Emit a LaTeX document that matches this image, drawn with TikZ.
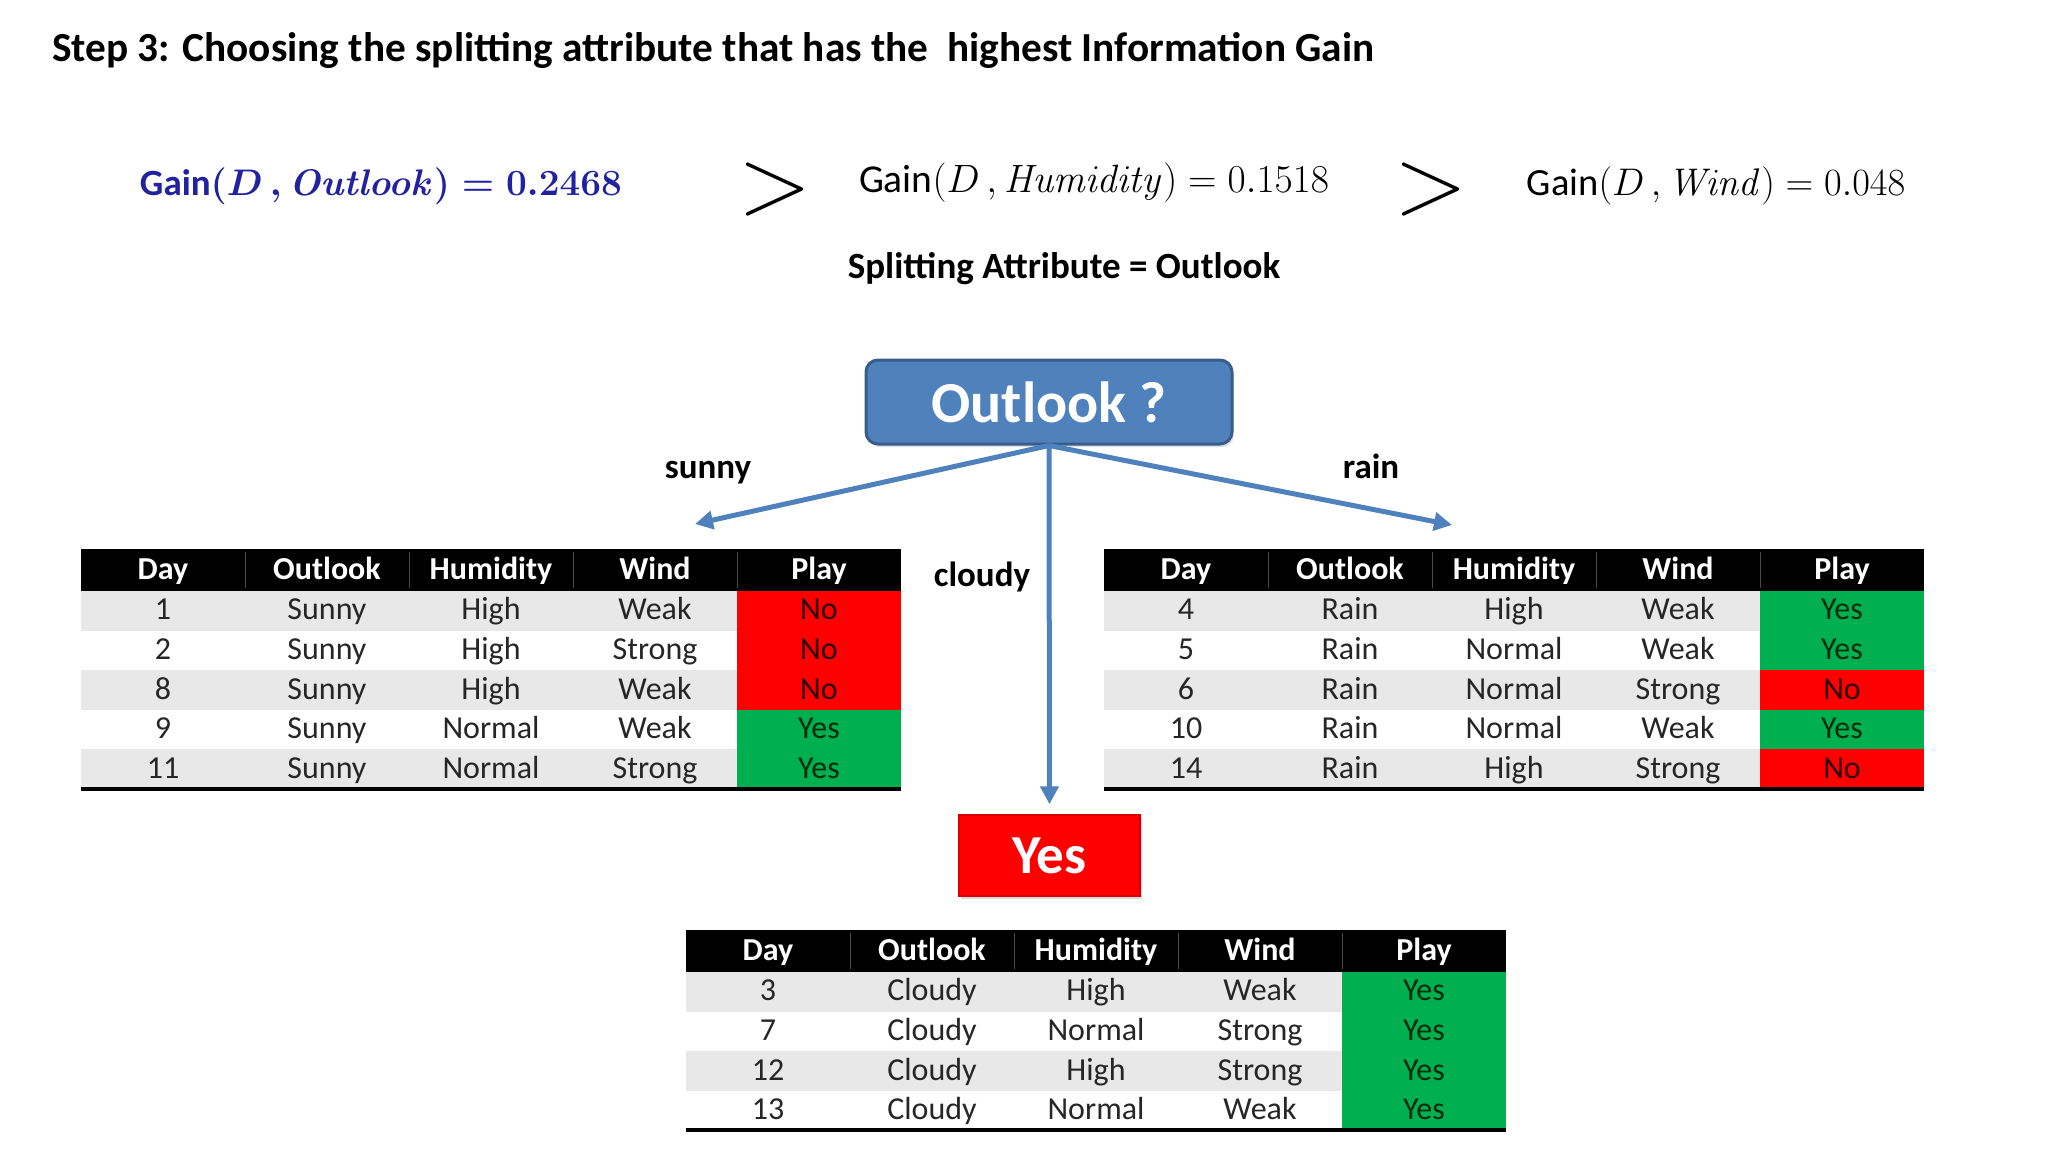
\RequirePackage{fix-cm}
\documentclass[tikz,border=0pt]{standalone}
\usepackage{amsmath}
\usepackage[no-math]{fontspec}
\setmainfont{Carlito}
\usepackage{tikz}
\usetikzlibrary{arrows.meta,shadows}
\definecolor{outlookblue}{HTML}{4F81BD}
\definecolor{outlookedge}{HTML}{385D8A}
\definecolor{gainblue}{HTML}{2222A0}
\definecolor{playNo}{HTML}{FF0000}
\definecolor{playYes}{HTML}{00B050}
\definecolor{inkNo}{HTML}{2A0000}
\definecolor{inkYes}{HTML}{052A0C}
\newcommand{\fsz}[1]{\fontsize{#1}{#1}\selectfont}
\tikzset{
	hdr/.style={text=white,font=\fsz{32}\bfseries,text height=22pt,text depth=4pt,inner sep=0pt},
	cell/.style={text=black!85,font=\fsz{32},text height=22pt,text depth=4pt,inner sep=0pt},
	playcell/.style={cell,minimum width=164pt,minimum height=39.6pt},
	hdrrule/.style={black!70,line width=1pt},
	branch/.style={outlookblue,line width=5pt,-{Triangle[length=18pt,width=18pt]}},
	branchlabel/.style={font=\fsz{35}\bfseries,anchor=base,inner sep=0pt},
	gain/.style={anchor=base,font=\fsz{38.5},inner sep=0pt},
	outlookbox/.style={fill=outlookblue,draw=outlookedge,line width=3pt,rounded corners=12pt,
		minimum width=366pt,minimum height=84pt,text=white,font=\fsz{58}\bfseries,
		drop shadow={shadow xshift=2pt,shadow yshift=-3pt,opacity=0.25}},
	yesbox/.style={fill=playNo,draw=red!85!black,line width=1.5pt,minimum width=181pt,
		minimum height=81pt,text=white,font=\fsz{55}\bfseries,
		drop shadow={shadow xshift=2pt,shadow yshift=-3pt,opacity=0.3}},
}
% #1 name, (#2,#3) top left corner, #4 number of rows, #5 rows
\newcommand{\playtable}[5]{
	\fill[black] (#2,#3) rectangle ++(820,42);
	\foreach \c in {1,...,4}
		\draw[hdrrule] (#2+164*\c,#3+3) -- ++(0,36);
	\foreach \t [count=\c] in {Day,Outlook,Humidity,Wind,Play}
		\node[hdr] (#1-0-\c) at (#2+164*\c-82,#3+21) {\t};
	\foreach \da/\ou/\hu/\wi/\pl [count=\r] in {#5}{
		\pgfmathsetmacro\ytop{#3+42+39.6*(\r-1)}
		\pgfmathtruncatemacro\tint{mod(\r,2)*9}
		\fill[black!\tint] (#2,\ytop) rectangle ++(656,39.6);
		\foreach \v [count=\c] in {\da,\ou,\hu,\wi}
			\node[cell] (#1-\r-\c) at (#2+164*\c-82,\ytop+19.8) {\v};
		\node[playcell,fill=play\pl] (#1-\r-5) at (#2+738,\ytop+19.8) {\textcolor{ink\pl}{\pl}};
	}
	\draw[line width=4pt] (#2,#3+42+39.6*#4) -- ++(820,0);
}

\begin{document}
\begin{tikzpicture}[x=1pt,y=-1pt]
	\useasboundingbox (0,0) rectangle (2048,1152);
	%TITLE
	\node[anchor=base west,font=\fsz{41.3}\bfseries,inner sep=0pt] (title) at (52,61) {Step 3: Choosing the splitting attribute that has the\ \ highest Information Gain};
	%GAINS
	\node[gain,font=\fsz{37}\bfseries\boldmath,text=gainblue] (gainout) at (381,195) {Gain$(D\,,\mathit{Outlook})=0.2468$};
	\node[font=\fsz{96},inner sep=0pt] (gt1) at (775,189) {$>$};
	\node[gain,font=\fsz{39.5}] (gainhum) at (1094,192) {Gain$(D\,,\mathit{Humidity})=0.1518$};
	\node[font=\fsz{96},inner sep=0pt] (gt2) at (1431,189) {$>$};
	\node[gain] (gainwind) at (1716,195) {Gain$(D\,,\mathit{Wind})=0.048$};
	\node[anchor=base,font=\fsz{37}\bfseries,inner sep=0pt] (split) at (1064,278) {Splitting Attribute = Outlook};
	%TREE
	\node[outlookbox] (outlook) at (1049,402) {Outlook ?};
	\node[yesbox] (yes) at (1049.5,855.5) {Yes};
	\coordinate (sunnyend) at (695,524);
	\coordinate (rainend) at (1452,525);
	\draw[branch] (outlook.south) -- (sunnyend);
	\draw[branch] (outlook.south) -- (rainend);
	\draw[branch,shorten >=10pt] (outlook.south) -- (yes.north);
	\node[branchlabel] (sunny) at (708,478) {sunny};
	\node[branchlabel] (rain) at (1371,478) {rain};
	\node[branchlabel] (cloudy) at (982,586) {cloudy};
	%TABLES
	\playtable{sunnytab}{81}{549}{5}{1/Sunny/High/Weak/No, 2/Sunny/High/Strong/No,
		8/Sunny/High/Weak/No, 9/Sunny/Normal/Weak/Yes, 11/Sunny/Normal/Strong/Yes}
	\playtable{raintab}{1104}{549}{5}{4/Rain/High/Weak/Yes, 5/Rain/Normal/Weak/Yes,
		6/Rain/Normal/Strong/No, 10/Rain/Normal/Weak/Yes, 14/Rain/High/Strong/No}
	\playtable{cloudytab}{686}{930}{4}{3/Cloudy/High/Weak/Yes, 7/Cloudy/Normal/Strong/Yes,
		12/Cloudy/High/Strong/Yes, 13/Cloudy/Normal/Weak/Yes}
\end{tikzpicture}
\end{document}
